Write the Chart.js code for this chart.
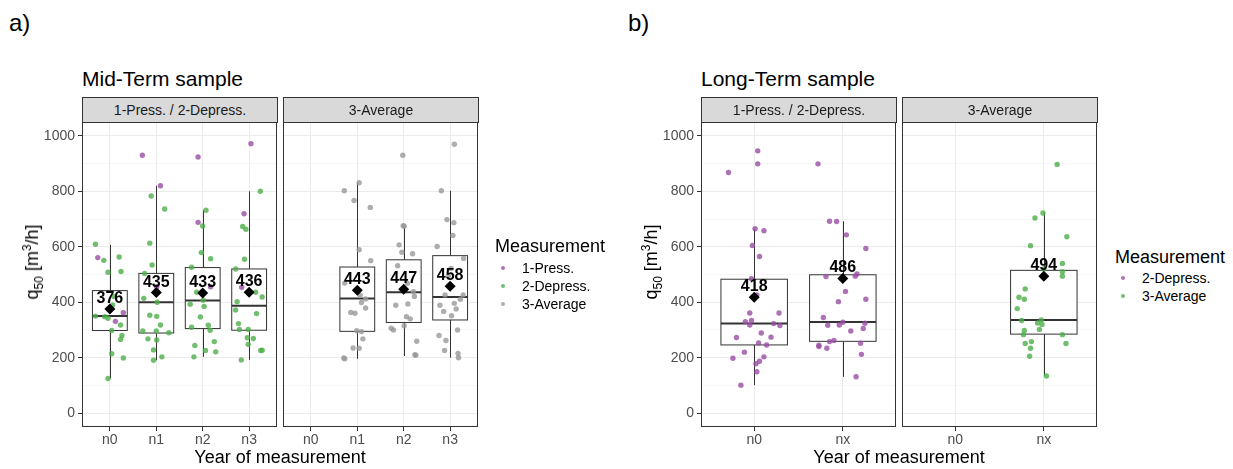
<!DOCTYPE html>
<html>
<head>
<meta charset="utf-8">
<script src="https://cdn.jsdelivr.net/npm/chart.js@4.4.1/dist/chart.umd.min.js"></script>
<style>
  body { margin: 0; background: #fff; width: 1233px; height: 469px; position: relative; overflow: hidden;
         font-family: "Liberation Sans", Arial, sans-serif; }
  canvas { position: absolute; }
  .txt { position: absolute; white-space: nowrap; line-height: 1; color: #000; }
  .strip { position: absolute; top: 97px; height: 26px; width: 196px; background: #d9d9d9; border: 1px solid #333;
           box-sizing: border-box; text-align: center; font-size: 14px; line-height: 24px; color: #1a1a1a; }
  .ytitle { position: absolute; top: 262px; font-size: 18px; white-space: nowrap; line-height: 1;
            transform: translate(-50%, -50%) rotate(-90deg); }
  .ytitle sub, .ytitle sup { font-size: 12px; line-height: 0; }
  .xtitle { position: absolute; top: 448px; font-size: 18px; line-height: 1; white-space: nowrap; transform: translateX(-50%); }
  .dot { position: absolute; width: 4px; height: 4px; border-radius: 50%; }
  .leg { position: absolute; font-size: 14px; line-height: 1; white-space: nowrap; }
</style>
</head>
<body>
<canvas id="a1"></canvas>
<canvas id="a2"></canvas>
<canvas id="b1"></canvas>
<canvas id="b2"></canvas>

<div class="txt" style="left:9px;top:11px;font-size:24px;">a)</div>
<div class="txt" style="left:628px;top:11px;font-size:24px;">b)</div>
<div class="txt" style="left:82px;top:68px;font-size:21px;">Mid-Term sample</div>
<div class="txt" style="left:701px;top:68px;font-size:21px;">Long-Term sample</div>

<div class="strip" style="left:82px;">1-Press. / 2-Depress.</div>
<div class="strip" style="left:283px;">3-Average</div>
<div class="strip" style="left:701px;">1-Press. / 2-Depress.</div>
<div class="strip" style="left:902px;">3-Average</div>

<div class="ytitle" style="left:32px;">q<sub>50</sub> [m<sup>3</sup>/h]</div>
<div class="ytitle" style="left:651px;">q<sub>50</sub> [m<sup>3</sup>/h]</div>
<div class="xtitle" style="left:280px;">Year of measurement</div>
<div class="xtitle" style="left:899px;">Year of measurement</div>

<div id="legA"></div>
<div id="legB"></div>

<script>
const midCats = ["n0", "n1", "n2", "n3"];
const longCats = ["n0", "nx"];
const yTicks = [0, 100, 200, 300, 400, 500, 600, 700, 800, 900, 1000];
const yLabels = [0, 200, 400, 600, 800, 1000];

const purple = "rgba(152, 78, 163, 0.8)";
const green = "rgba(77, 175, 74, 0.8)";
const grey = "rgba(153, 153, 153, 0.8)";

// jittered points: [offset from category, q50]
const midPressN0 = [[-0.26, 561], [0.29, 362], [0.12, 331]];
const midPressN1 = [[-0.30, 930], [0.09, 820], [0.01, 456]];
const midPressN2 = [[-0.10, 924], [-0.10, 688], [0.17, 456]];
const midPressN3 = [[0.04, 972], [-0.11, 719], [-0.16, 454]];

const midDepN0 = [[-0.31, 609], [-0.13, 551], [0.20, 563], [-0.04, 508], [0.24, 511], [0.09, 421], [0.06, 390],
  [-0.31, 350], [-0.11, 348], [-0.04, 342], [0.23, 318], [0.04, 298], [0.26, 280], [0.23, 266], [0.04, 214],
  [0.29, 199], [-0.04, 125]];
const midDepN1 = [[-0.11, 783], [0.18, 736], [-0.14, 613], [-0.09, 534], [-0.25, 504], [-0.27, 414], [0.02, 400],
  [-0.14, 353], [0.01, 349], [0.09, 318], [-0.29, 296], [0.00, 296], [0.27, 290], [-0.18, 268], [0.01, 264],
  [-0.06, 228], [0.12, 203], [-0.06, 191]];
const midDepN2 = [[0.07, 732], [0.00, 675], [-0.03, 579], [0.17, 557], [-0.24, 526], [-0.13, 436], [0.01, 407],
  [-0.27, 393], [0.03, 385], [-0.05, 347], [-0.24, 310], [0.12, 317], [0.16, 299], [-0.17, 244], [0.25, 258],
  [0.06, 226], [0.28, 221], [-0.19, 203]];
const midDepN3 = [[0.24, 800], [-0.14, 673], [-0.07, 663], [-0.10, 555], [-0.29, 520], [0.14, 436], [0.28, 419],
  [-0.26, 402], [-0.29, 372], [0.16, 359], [-0.23, 323], [-0.21, 302], [-0.02, 302], [-0.04, 272], [0.09, 269],
  [-0.02, 248], [0.25, 226], [0.28, 227], [-0.17, 192]];

const midAvgN1 = [[0.04, 831], [-0.28, 802], [-0.07, 767], [0.28, 742], [0.04, 589], [0.29, 550], [-0.27, 469],
  [0.06, 425], [0.18, 412], [0.09, 399], [0.18, 379], [-0.14, 363], [-0.05, 360], [-0.01, 297], [0.09, 294],
  [0.12, 268], [-0.09, 235], [0.04, 234], [-0.29, 199], [-0.27, 196]];
const midAvgN2 = [[-0.02, 930], [-0.01, 676], [0.01, 674], [-0.10, 607], [-0.04, 580], [0.19, 575], [-0.13, 532],
  [0.08, 468], [0.21, 438], [0.23, 421], [-0.17, 389], [0.09, 394], [0.06, 348], [0.14, 340], [0.01, 315],
  [-0.27, 306], [-0.22, 300], [0.28, 259], [0.24, 211], [0.26, 209]];
const midAvgN3 = [[0.09, 970], [-0.19, 802], [-0.07, 698], [0.08, 687], [0.06, 641], [-0.28, 601], [0.29, 558],
  [0.02, 522], [-0.04, 495], [-0.11, 426], [0.28, 426], [0.22, 411], [-0.22, 389], [0.09, 396], [0.13, 376],
  [-0.14, 367], [0.03, 351], [0.16, 300], [-0.24, 280], [-0.09, 262], [-0.12, 226], [0.17, 215], [0.18, 200]];

const longDepN0 = [[0.04, 946], [0.04, 899], [-0.29, 868], [0.01, 665], [0.11, 658], [-0.02, 605], [0.06, 565],
  [-0.03, 485], [0.03, 426], [-0.05, 361], [0.28, 361], [-0.10, 330], [-0.03, 334], [-0.05, 318], [0.22, 323],
  [0.29, 316], [0.08, 289], [-0.20, 273], [0.19, 274], [0.05, 253], [0.14, 246], [-0.11, 220], [-0.24, 198],
  [0.11, 203], [0.06, 187], [0.02, 178], [0.03, 149], [-0.15, 101]];
const longDepNx = [[-0.28, 899], [-0.15, 692], [-0.07, 691], [0.04, 643], [0.26, 594], [-0.19, 493], [0.14, 494],
  [0.16, 502], [0.03, 439], [-0.05, 402], [0.26, 411], [-0.22, 345], [-0.17, 317], [-0.04, 318], [0.00, 328],
  [0.25, 324], [0.09, 296], [0.23, 305], [-0.10, 262], [-0.15, 258], [-0.27, 245], [-0.27, 240], [-0.18, 234],
  [0.20, 252], [0.21, 212], [0.15, 131]];
const longAvgNx = [[0.15, 897], [-0.01, 722], [-0.10, 704], [0.26, 636], [-0.15, 604], [0.21, 540], [0.00, 520],
  [0.21, 510], [0.21, 494], [-0.21, 448], [-0.28, 418], [-0.22, 411], [-0.30, 377], [-0.25, 334], [-0.03, 336],
  [-0.07, 325], [-0.02, 320], [-0.05, 302], [-0.22, 298], [-0.23, 283], [0.21, 283], [-0.21, 251], [-0.14, 258],
  [0.25, 251], [-0.15, 234], [-0.16, 205], [0.03, 134]];

// box stats: [lower whisker, q1, median, q3, upper whisker]
const midPDBoxes = [[125, 298, 350, 442, 607], [191, 289, 400, 504, 820], [203, 305, 406, 525, 732], [192, 299, 387, 520, 800]];
const midPDMeans = [376, 435, 433, 436];
const midAvgBoxes = [null, [196, 295, 413, 527, 831], [206, 327, 436, 553, 676], [200, 336, 419, 568, 802]];
const midAvgMeans = [null, 443, 447, 458];
const longPDBoxes = [[101, 246, 323, 483, 665], [131, 259, 329, 499, 692]];
const longPDMeans = [418, 486];
const longAvgBoxes = [null, [134, 285, 336, 515, 722]];
const longAvgMeans = [null, 494];

Chart.defaults.font.family = '"Liberation Sans", Arial, sans-serif';

const plotTop = 122, plotH = 305, plotW = 195, xAxisH = 32;

function boxPlugin(boxes, means) {
  return {
    id: "boxes",
    beforeDatasetsDraw(chart) {
      const { ctx, scales: { x, y } } = chart;
      ctx.save();
      ctx.strokeStyle = "#333";
      boxes.forEach((b, i) => {
        if (!b) return;
        const xc = Math.round(x.getPixelForValue(i)) + 0.5;
        const xl = x.getPixelForValue(i - 0.375), xr = x.getPixelForValue(i + 0.375);
        const yq1 = y.getPixelForValue(b[1]), yq3 = y.getPixelForValue(b[3]);
        ctx.lineWidth = 1;
        ctx.beginPath();
        ctx.moveTo(xc, y.getPixelForValue(b[4])); ctx.lineTo(xc, yq3);
        ctx.moveTo(xc, yq1); ctx.lineTo(xc, y.getPixelForValue(b[0]));
        ctx.stroke();
        ctx.fillStyle = "#fff";
        ctx.fillRect(xl, yq3, xr - xl, yq1 - yq3);
        ctx.strokeRect(xl, yq3, xr - xl, yq1 - yq3);
        ctx.lineWidth = 2;
        ctx.beginPath();
        ctx.moveTo(xl, y.getPixelForValue(b[2])); ctx.lineTo(xr, y.getPixelForValue(b[2]));
        ctx.stroke();
      });
      ctx.restore();
    },
    afterDatasetsDraw(chart) {
      const { ctx, scales: { x, y } } = chart;
      ctx.save();
      ctx.fillStyle = "#000";
      ctx.font = 'bold 16px "Liberation Sans", Arial, sans-serif';
      ctx.textAlign = "center";
      ctx.textBaseline = "alphabetic";
      means.forEach((m, i) => {
        if (m == null) return;
        ctx.fillText(String(m), x.getPixelForValue(i), y.getPixelForValue(m) - 6);
      });
      ctx.restore();
    },
    afterDraw(chart) {
      const { ctx, chartArea: a } = chart;
      ctx.save();
      ctx.strokeStyle = "#333";
      ctx.lineWidth = 1;
      ctx.strokeRect(a.left + 0.5, a.top + 0.5, a.right - a.left - 1, a.bottom - a.top - 1);
      ctx.restore();
    }
  };
}

function facet(id, plotLeft, cats, showY, series, boxes, means) {
  const yW = showY ? 82 : 2;
  const cv = document.getElementById(id);
  cv.width = yW + plotW + 2;
  cv.height = 2 + plotH + xAxisH;
  cv.style.left = (plotLeft - yW) + "px";
  cv.style.top = (plotTop - 2) + "px";

  const datasets = [{
    data: means.map((m, i) => m == null ? null : { x: i, y: m }).filter(p => p),
    pointStyle: "rectRot", pointRadius: 5.5, backgroundColor: "#000", borderWidth: 0
  }];
  series.forEach(s => {
    const pts = [];
    s.groups.forEach((g, i) => { if (g) g.forEach(p => pts.push({ x: i + p[0], y: p[1] })); });
    datasets.push({ data: pts, pointRadius: 2.7, backgroundColor: s.color, borderWidth: 0 });
  });

  new Chart(cv, {
    type: "scatter",
    data: { datasets },
    options: {
      responsive: false,
      animation: false,
      events: [],
      layout: { autoPadding: false, padding: { top: 2, right: 2, left: 0, bottom: 0 } },
      plugins: { legend: { display: false }, tooltip: { enabled: false } },
      scales: {
        x: {
          type: "linear", min: -0.6, max: cats.length - 0.4,
          afterBuildTicks: ax => { ax.ticks = cats.map((c, i) => ({ value: i })); },
          afterFit: ax => { ax.height = xAxisH; ax.paddingLeft = 0; ax.paddingRight = 0; },
          ticks: { callback: v => cats[v], color: "#4d4d4d", font: { size: 14 }, padding: 1,
                   maxRotation: 0, autoSkip: false },
          grid: { color: "#ebebeb", lineWidth: 1, tickLength: 4, tickColor: "#333" },
          border: { display: false }
        },
        y: {
          type: "linear", min: -50, max: 1050,
          afterBuildTicks: ax => { ax.ticks = yTicks.map(v => ({ value: v })); },
          afterFit: ax => { ax.width = yW; ax.paddingTop = 0; ax.paddingBottom = 0; },
          ticks: { display: showY, callback: v => yLabels.includes(v) ? String(v) : "",
                   color: "#4d4d4d", font: { size: 14 }, padding: 3 },
          grid: {
            color: c => yLabels.includes(c.tick.value) ? "#ebebeb" : "#f3f3f3",
            lineWidth: c => yLabels.includes(c.tick.value) ? 1 : 0.7,
            tickColor: c => yLabels.includes(c.tick.value) ? "#333" : "rgba(0,0,0,0)",
            tickLength: 4, drawTicks: showY
          },
          border: { display: false }
        }
      }
    },
    plugins: [boxPlugin(boxes, means)]
  });
}

facet("a1", 82, midCats, true, [
  { color: purple, groups: [midPressN0, midPressN1, midPressN2, midPressN3] },
  { color: green, groups: [midDepN0, midDepN1, midDepN2, midDepN3] }
], midPDBoxes, midPDMeans);
facet("a2", 283, midCats, false, [
  { color: grey, groups: [null, midAvgN1, midAvgN2, midAvgN3] }
], midAvgBoxes, midAvgMeans);
facet("b1", 701, longCats, true, [
  { color: purple, groups: [longDepN0, longDepNx] }
], longPDBoxes, longPDMeans);
facet("b2", 902, longCats, false, [
  { color: green, groups: [null, longAvgNx] }
], longAvgBoxes, longAvgMeans);

// legends
function legend(elId, left, titleTop, labels, colors, itemTops) {
  const el = document.getElementById(elId);
  let html = `<div class="txt" style="left:${left}px;top:${titleTop}px;font-size:18px;">Measurement</div>`;
  labels.forEach((l, i) => {
    html += `<div class="dot" style="left:${left + 6}px;top:${itemTops[i] - 2}px;background:${colors[i]};"></div>`;
    html += `<div class="leg" style="left:${left + 27}px;top:${itemTops[i] - 7}px;">${l}</div>`;
  });
  el.innerHTML = html;
}
legend("legA", 495, 237, ["1-Press.", "2-Depress.", "3-Average"], [purple, green, grey], [268, 286, 304]);
legend("legB", 1115, 248, ["2-Depress.", "3-Average"], [purple, green], [278, 296]);
</script>
</body>
</html>
